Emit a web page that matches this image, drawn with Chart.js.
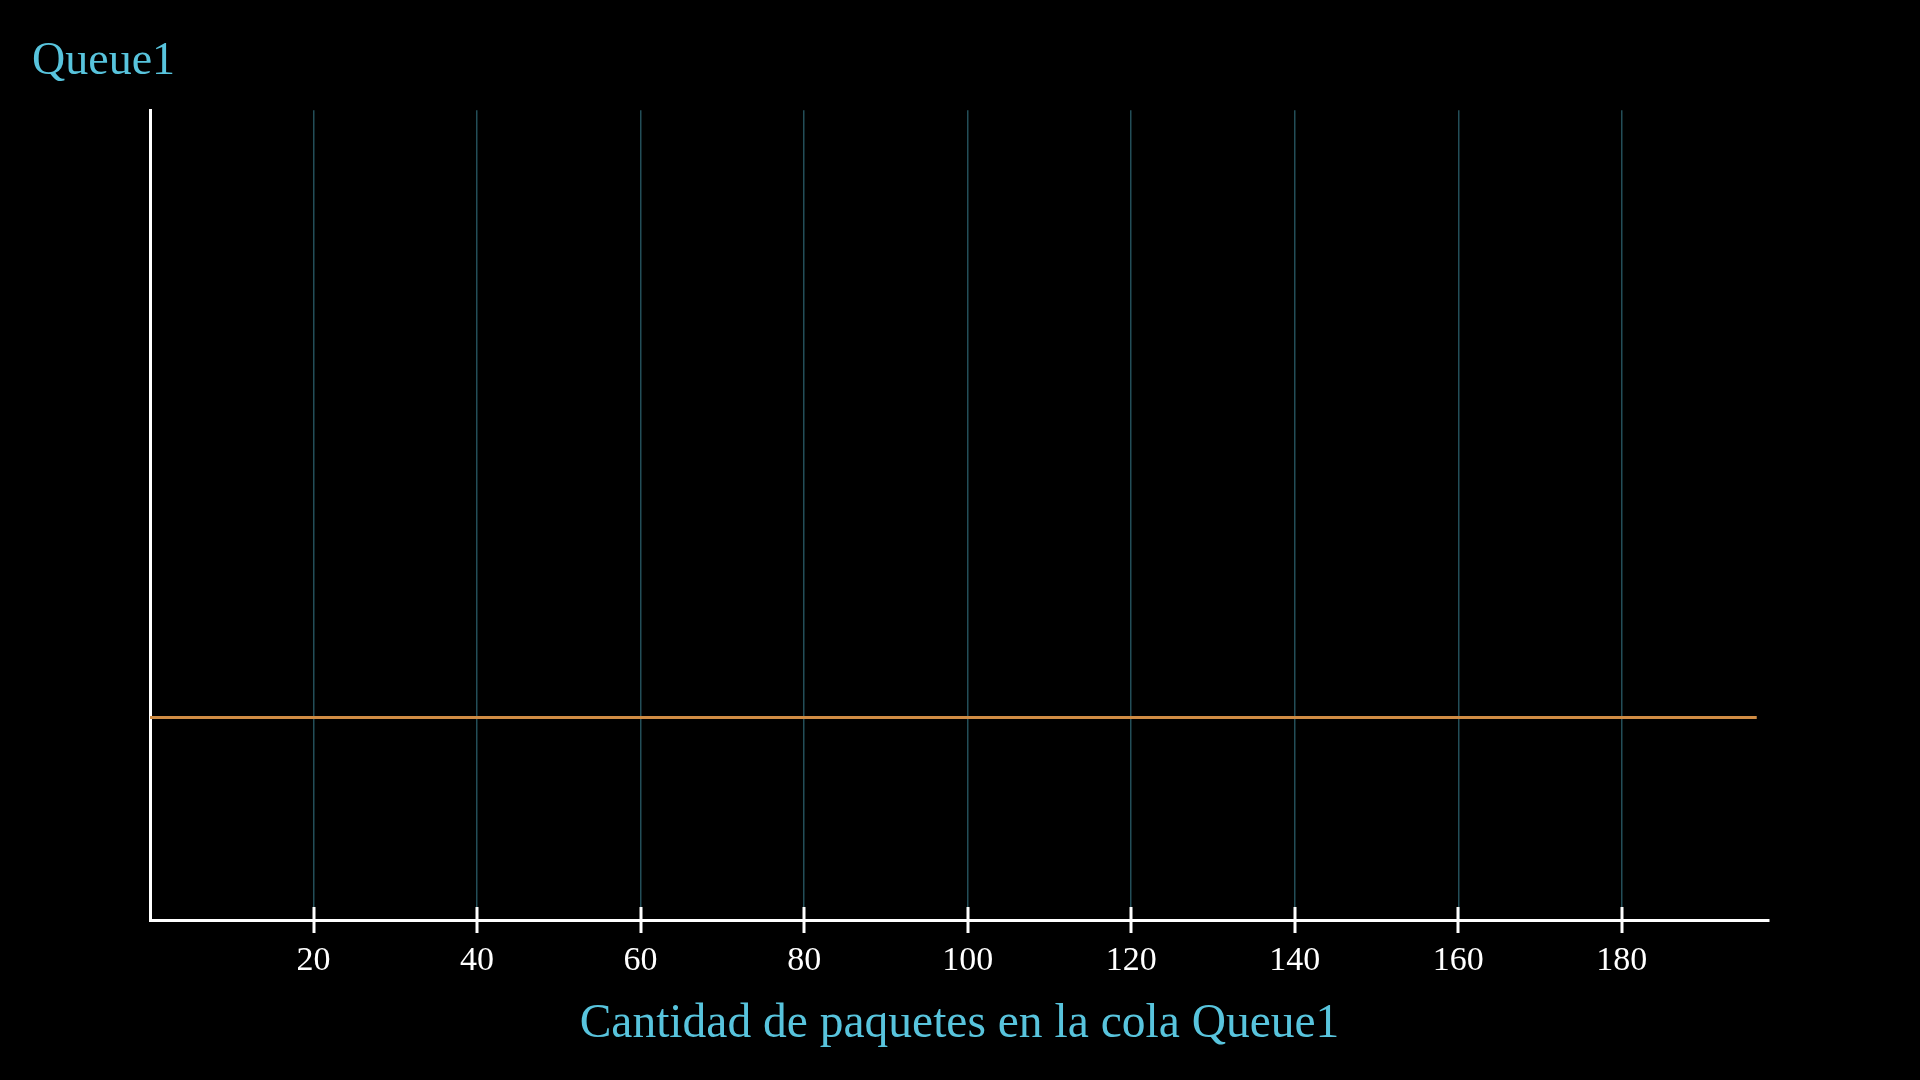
<!DOCTYPE html>
<html>
<head>
<meta charset="utf-8">
<script src="https://cdn.jsdelivr.net/npm/chart.js@4.4.1/dist/chart.umd.min.js"></script>
<style>
html,body{margin:0;padding:0;background:#000;}
#wrap{width:1920px;height:1080px;position:relative;}
</style>
</head>
<body>
<div id="wrap"><canvas id="c" width="1920" height="1080"></canvas></div>
<script>
const chartTitle = 'Queue1';
const xAxisTitle = 'Cantidad de paquetes en la cola Queue1';
const xValues = [0, 196.5];
const yValues = [1, 1];
const xTicks = [20, 40, 60, 80, 100, 120, 140, 160, 180];
const xMin = 0, xMax = 198;
const yMin = 0, yMax = 4;

const FONT = "'Liberation Serif', 'DejaVu Serif', serif";
const BLUE = '#58C4DD';

const tickMarks = {
  id: 'tickMarks',
  afterDraw(chart) {
    const xs = chart.scales.x;
    const ctx = chart.ctx;
    const y0 = chart.chartArea.bottom;
    ctx.save();
    ctx.strokeStyle = '#ffffff';
    ctx.lineWidth = 3;
    xTicks.forEach(v => {
      const px = Math.round(xs.getPixelForValue(v));
      ctx.beginPath();
      ctx.moveTo(px, y0 - 13);
      ctx.lineTo(px, y0 + 13);
      ctx.stroke();
    });
    ctx.restore();
  }
};

new Chart(document.getElementById('c'), {
  type: 'line',
  data: {
    datasets: [{
      data: xValues.map((x, i) => ({x, y: yValues[i]})),
      borderColor: '#D08C44',
      borderWidth: 3,
      pointRadius: 0,
      fill: false,
      tension: 0
    }]
  },
  options: {
    responsive: false,
    animation: false,
    layout: {padding: {left: 32, right: 151, top: 0, bottom: 0}},
    plugins: {
      legend: {display: false},
      tooltip: {enabled: false},
      title: {
        display: true,
        text: chartTitle,
        align: 'start',
        color: BLUE,
        font: {family: FONT, size: 46, weight: 'normal'},
        padding: {top: 34, bottom: 21}
      }
    },
    scales: {
      x: {
        type: 'linear',
        min: xMin,
        max: xMax,
        afterBuildTicks(scale) { scale.ticks = xTicks.map(v => ({value: v})); },
        afterFit(scale) { scale.height = 160; },
        border: {display: true, color: '#ffffff', width: 3},
        grid: {
          color: 'rgba(88,196,221,0.4)',
          lineWidth: 1.5,
          drawTicks: false,
          tickLength: 13
        },
        ticks: {
          color: '#ffffff',
          font: {family: FONT, size: 34},
          padding: 21,
          maxRotation: 0,
          autoSkip: false
        },
        title: {
          display: true,
          text: xAxisTitle,
          color: BLUE,
          font: {family: FONT, size: 47.5},
          padding: {top: 10, bottom: 27}
        }
      },
      y: {
        type: 'linear',
        min: yMin,
        max: yMax,
        afterFit(scale) { scale.width = 118; },
        border: {display: true, color: '#ffffff', width: 3},
        grid: {display: false, drawTicks: false},
        ticks: {display: false}
      }
    }
  },
  plugins: [tickMarks]
});
</script>
</body>
</html>
